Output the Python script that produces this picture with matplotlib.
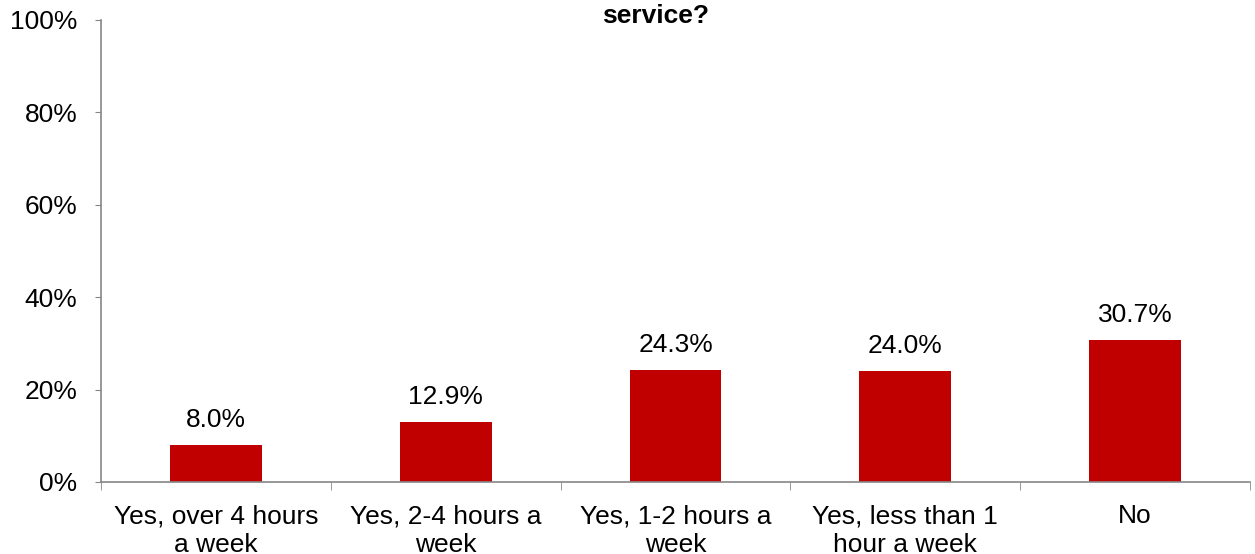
import matplotlib.pyplot as plt
from matplotlib.ticker import FixedLocator, PercentFormatter

categories = ['Yes, over 4 hours\na week', 'Yes, 2-4 hours a\nweek', 'Yes, 1-2 hours a\nweek',
              'Yes, less than 1\nhour a week', 'No']
values = [8.0, 12.9, 24.3, 24.0, 30.7]

plt.rcParams['font.family'] = ['Liberation Sans', 'DejaVu Sans']
FS = 19

fig = plt.figure(figsize=(12.55, 5.54), dpi=100)
ax = fig.add_axes([0.0805, 0.130, 0.9155, 0.834])

x = list(range(len(categories)))
bars = ax.bar(x, values, width=0.4, color='#C00000')
for b, v in zip(bars, values):
    ax.annotate(f'{v:.1f}%', (b.get_x() + b.get_width() / 2, v), xytext=(0, 9.5),
                textcoords='offset points', ha='center', va='bottom', fontsize=FS)

ax.set_xlim(-0.5, len(categories) - 0.5)
ax.set_ylim(0, 100)
ax.set_yticks(range(0, 101, 20))
ax.yaxis.set_major_formatter(PercentFormatter(decimals=0))
ax.set_xticks(x)
ax.set_xticklabels(categories, fontsize=FS, linespacing=1.25)
ax.xaxis.set_minor_locator(FixedLocator([i - 0.5 for i in range(len(categories) + 1)]))
ax.tick_params(axis='x', which='major', length=0, pad=16)
ax.tick_params(axis='x', which='minor', length=6, color='#868686', direction='out')
ax.tick_params(axis='y', length=4, color='#868686', labelsize=FS, pad=13)

for s in ('top', 'right'):
    ax.spines[s].set_visible(False)
for s in ('left', 'bottom'):
    ax.spines[s].set_color('#868686')
    ax.spines[s].set_linewidth(1.2)

fig.text(0.522, 0.993, 'service?', ha='center', va='top', fontsize=FS, fontweight='bold')

fig.savefig('out.png', dpi=100)
